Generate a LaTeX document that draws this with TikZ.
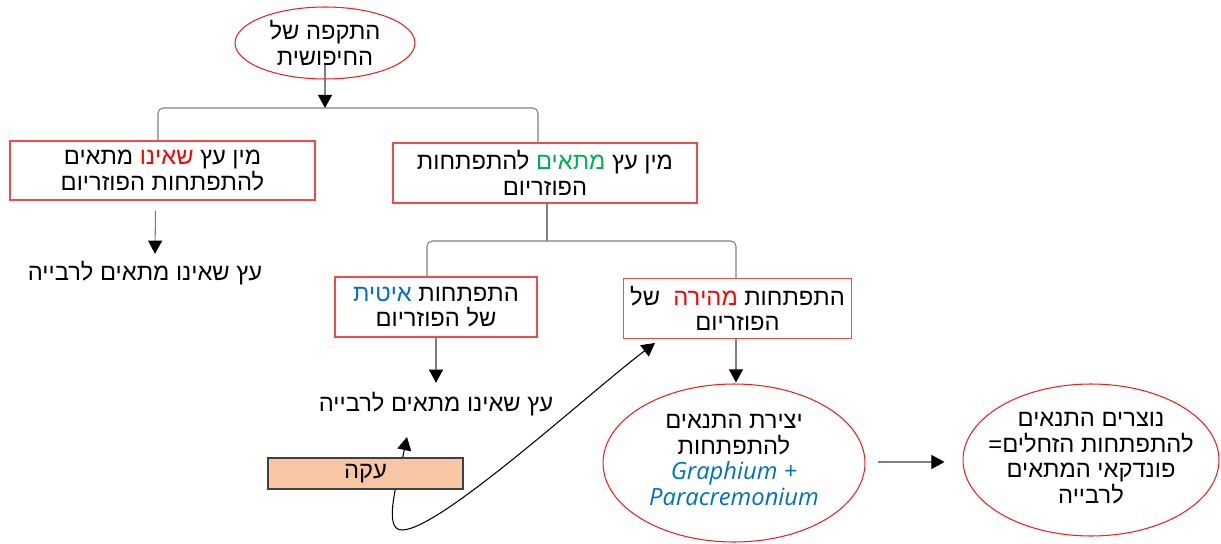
\documentclass[tikz,border=0pt]{standalone}
\usepackage{fontspec}
\usetikzlibrary{shapes.geometric,arrows.meta}
\TeXXeTstate=1
\newfontfamily\heb[Script=Hebrew]{Liberation Sans}
\newfontfamily\latf{Open Sans}
\definecolor{boxred}{HTML}{F24A4A}
\definecolor{ovred}{HTML}{F01E1E}
\definecolor{hred}{HTML}{FF0000}
\definecolor{hgreen}{HTML}{00B050}
\definecolor{hblue}{HTML}{0070C0}
\definecolor{linegray}{HTML}{7F7F7F}
\definecolor{peach}{HTML}{F7C6A3}
\newcommand\RL[1]{\beginR #1\endR}
% coloured chunk, placed in visual (left-to-right) order
\newcommand\cw[2]{\textcolor{#1}{\RL{#2}}}
\begin{document}
\begin{tikzpicture}[x=0.02cm,y=-0.02cm,
  every node/.style={font=\heb\fontsize{13.5}{14.5}\selectfont, align=center, inner sep=0pt},
  rbox/.style={draw=boxred, line width=0.7pt},
  oval/.style={ellipse, draw=ovred, line width=0.6pt},
  conn/.style={draw=linegray, line width=0.6pt},
  arr/.style={conn, -{Triangle[width=8pt,length=7.5pt,color=black]}},
  barr/.style={draw=black, line width=0.6pt, {Triangle[width=8pt,length=7.5pt]}-{Triangle[width=8pt,length=7.5pt]}},
]
\useasboundingbox (0,0) rectangle (1221,544);

% nodes (lines with a coloured word are written in visual order, left to right)
\node[oval, minimum width=3.6cm, minimum height=1.44cm] (e1) at (325,43) {};
\node (e1t) at (e1) {\RL{התקפה של}\\\RL{החיפושית}};
\node[rbox, minimum width=6.1cm, minimum height=1.18cm] (bL) at (162.5,170.5)
  {\RL{מתאים}\ \cw{hred}{שאינו}\ \RL{מין עץ}\\\RL{להתפתחות הפוזריום}};
\node[rbox, minimum width=6.08cm, minimum height=1.2cm] (bR) at (545,173)
  {\RL{להתפתחות}\ \cw{hgreen}{מתאים}\ \RL{מין עץ}\\\RL{הפוזריום}};
\node (tL) at (145,273) {\RL{עץ שאינו מתאים לרבייה}};
\node[rbox, minimum width=4.04cm, minimum height=1.2cm] (bS) at (436,307)
  {\cw{hblue}{איטית}\ \RL{התפתחות}\\\RL{של הפוזריום}};
\node[rbox, minimum width=4.56cm, minimum height=1.2cm] (bF) at (737.5,308.5)
  {\RL{של}\ \ \cw{hred}{מהירה}\ \RL{התפתחות}\\\RL{הפוזריום}};
\node (tS) at (436,404) {\RL{עץ שאינו מתאים לרבייה}};
\node[oval, minimum width=5.24cm, minimum height=3.16cm] (e2) at (734,463) {};
\node (e2t) at (734,460)
  {\RL{יצירת התנאים}\\\RL{להתפתחות}\\{\latf\itshape\color{hblue}Graphium +}\\{\latf\itshape\color{hblue}Paracremonium}};
\node[oval, minimum width=5.12cm, minimum height=3.04cm] (e3) at (1091,460) {};
\node (e3t) at (1091,458)
  {\RL{נוצרים התנאים}\\\RL{להתפתחות הזחלים\hbox{=}}\\\RL{פונדקאי המתאים}\\\RL{לרבייה}};

% connectors
\coordinate (j1) at (325,108);
\draw[arr] ([shift={(0,22)}]e1.center) -- (j1);
\draw[conn, rounded corners=3pt] ([shift={(-4.5,0)}]bL.north) |- (j1) -| ([shift={(-7,0)}]bR.north);
\draw[arr] ([shift={(-7,10)}]bL.south) -- ([shift={(10,-7)}]tL.north);
\coordinate (j2) at (547,241);
\draw[conn] ([shift={(2,0)}]bR.south) -- (j2);
\draw[conn, rounded corners=3pt] ([shift={(-9,0)}]bS.north) |- (j2) -| ([shift={(-1.5,0)}]bF.north);
\draw[arr] (bS.south) -- ([shift={(0,-9)}]tS.north);
\draw[arr] ([shift={(-1.5,0)}]bF.south) -- ([shift={(-1.5,-1)}]bF.south |- e2.north);
\coordinate (e2e) at ([shift={(12,-1)}]e2.east);
\coordinate (e3w) at ([shift={(-18,0)}]e3.west);
\draw[arr] (e2e) -- (e2e -| e3w);

% curved arrow through the stress box
\coordinate (c1) at (407,437);
\coordinate (c2) at (655,343);
\draw[barr] (c1) .. controls (398,480) and (382,530) .. (402,530)
  .. controls (440,530) and (590,392) .. (c2);
\node[draw=black!75, line width=0.6pt, fill=peach, minimum width=3.9cm, minimum height=0.62cm] (akah) at (365.5,473.5) {\RL{עקה}};
\end{tikzpicture}
\end{document}
